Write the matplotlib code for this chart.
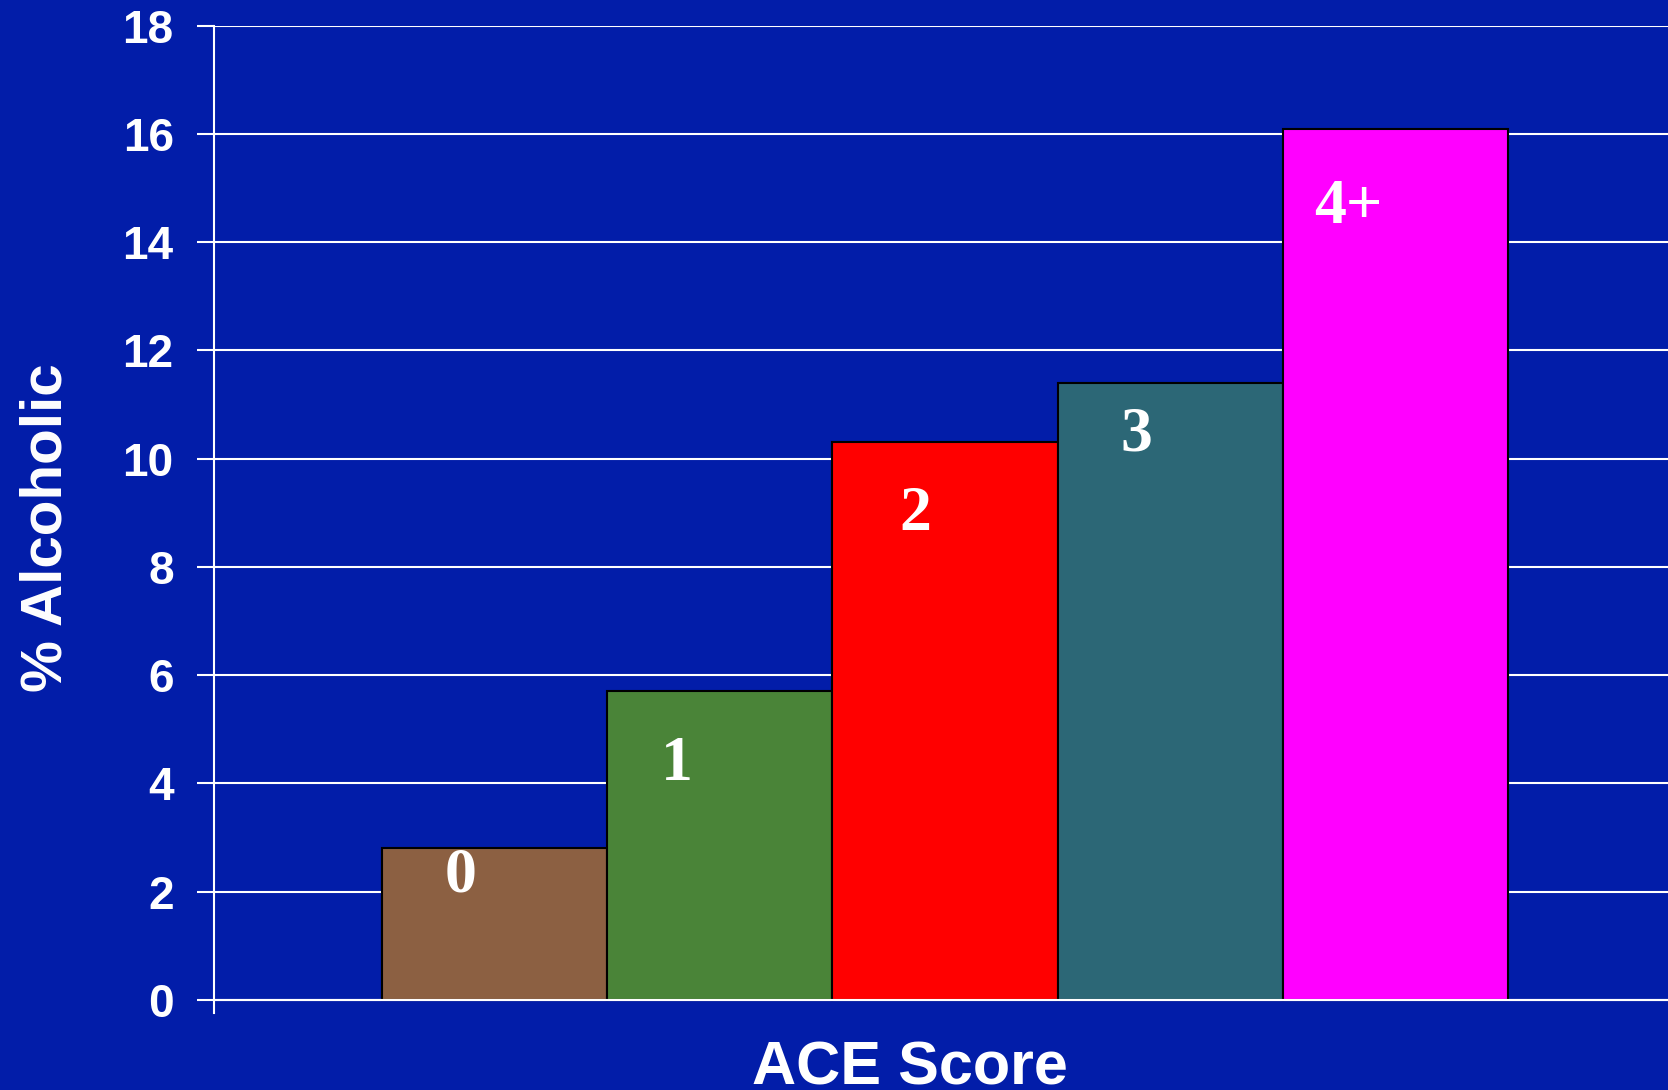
import matplotlib
matplotlib.use('Agg')
import matplotlib.pyplot as plt

# ACE score vs % alcoholic
scores = ['0', '1', '2', '3', '4+']
pct_alcoholic = [2.8, 5.7, 10.3, 11.4, 16.1]
bar_colors = ['#8C6042', '#4A8438', '#FF0000', '#2C6776', '#FF00FF']
yticks = [0, 2, 4, 6, 8, 10, 12, 14, 16, 18]

# where the score labels sit inside each bar (shift from bar centre, drop below top)
label_dx = [-0.15, -0.19, -0.13, -0.15, -0.21]
label_drop = [0.8, 1.64, 1.62, 1.24, 1.75]

bg = '#021DA9'
fig = plt.figure(figsize=(16.68, 10.90), dpi=100, facecolor=bg)
ax = fig.add_axes([0.1283, 0.07064, 0.8717, 0.9058])
ax.set_facecolor(bg)

x = list(range(len(scores)))
ax.bar(x, pct_alcoholic, width=1.0, color=bar_colors, edgecolor='black', linewidth=1.5, zorder=2)

for i in x:
    ax.text(i + label_dx[i], pct_alcoholic[i] - label_drop[i], scores[i],
            ha='center', va='baseline', color='white', fontsize=46,
            fontweight='bold', family=['Liberation Serif', 'DejaVu Serif'], zorder=4)

ax.set_xlim(-1.246, 5.21)
ax.set_ylim(-0.24, 18)
ax.set_yticks(yticks)
ax.set_xticks([])
ax.yaxis.grid(True, color='white', linewidth=1.5, zorder=0)
ax.set_axisbelow(True)
ax.axhline(0, color='white', linewidth=1.5, zorder=3)

for s in ['top', 'right', 'bottom']:
    ax.spines[s].set_visible(False)
ax.spines['left'].set_color('white')
ax.spines['left'].set_linewidth(1.5)

ax.tick_params(axis='y', direction='out', length=12, width=1.5, color='white',
               pad=17, labelcolor='white', labelsize=33)
for lab in ax.get_yticklabels():
    lab.set_fontweight('bold')
    lab.set_family('Liberation Sans')

ax.set_ylabel('% Alcoholic', color='white', fontsize=42, fontweight='bold',
              family='Liberation Sans', va='center')
ax.yaxis.set_label_coords(-0.115, 0.4916)
ax.set_xlabel('ACE Score', color='white', fontsize=44, fontweight='bold',
              family='Liberation Sans', va='baseline')
ax.xaxis.set_label_coords(0.4783, -0.072)

fig.savefig('out.png', dpi=100, facecolor=bg)
